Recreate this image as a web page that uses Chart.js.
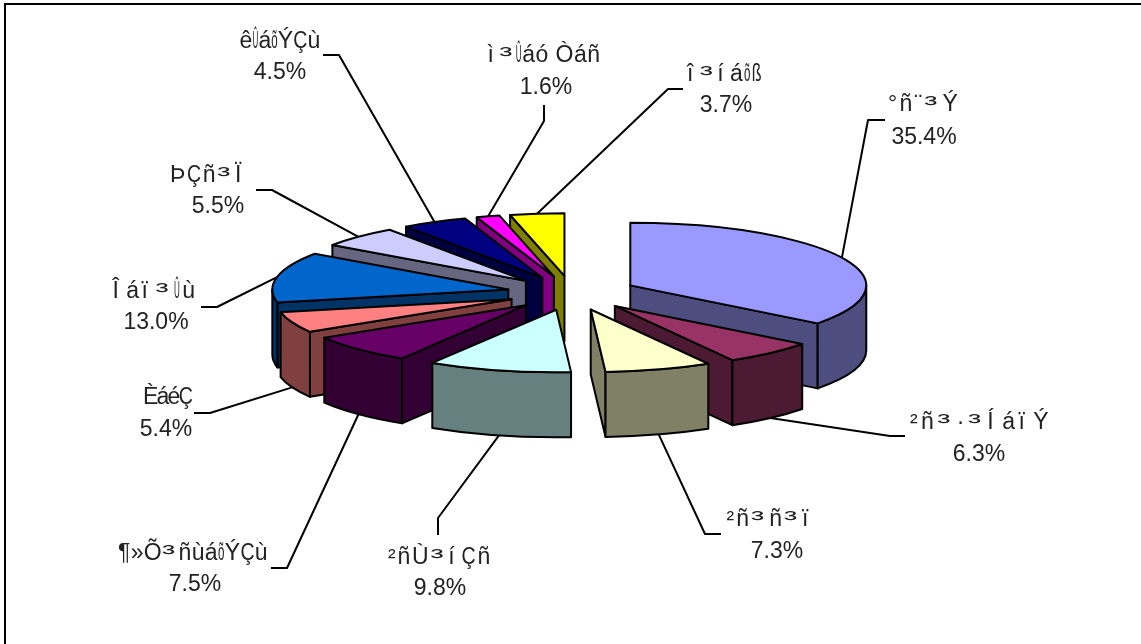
<!DOCTYPE html>
<html>
<head>
<meta charset="utf-8">
<title>Pie</title>
<script src="https://cdn.jsdelivr.net/npm/chart.js@4"></script>
<style>
    html, body { margin: 0; padding: 0; background: #fff; overflow: hidden; }
    #frame { position: absolute; left: 4px; top: 3px; width: 1137px; height: 641px; border-left: 2px solid #000; border-top: 2px solid #000; }
    canvas { position: absolute; left: 0; top: 0; }
</style>
</head>
<body>
<canvas id="pie" width="1141" height="644"></canvas>
<div id="frame"></div>
<script>
// data
var regions = ['°ñ¨³Ý', '²ñ³·³ÍáïÝ', '²ñ³ñ³ï', '²ñÙ³íÇñ', '¶»Õ³ñùáõÝÇù', 'ÈáéÇ', 'Îáï³Ûù', 'ÞÇñ³Ï', 'êÛáõÝÇù', 'ì³Ûáó Òáñ', 'î³íáõß'];
var shares = [35.4, 6.3, 7.3, 9.8, 7.5, 5.4, 13.0, 5.5, 4.5, 1.6, 3.7];

// colours
var topColors = ['#9999FF', '#993366', '#FFFFCC', '#CCFFFF', '#660066', '#FF8080', '#0066CC', '#CCCCFF', '#000080', '#FF00FF', '#FFFF00'];
var sideColors = ['#4D4D80', '#4D1A33', '#808066', '#668080', '#330033', '#804040', '#003366', '#666680', '#000040', '#800080', '#808000'];

// label layout: name x, name y, value x, value y, name width, leader elbow x, y, leader end x, y
var nameX = [924, 981, 771, 440, 193, 167, 155, 209, 280, 544, 725];
var nameY = [105, 423, 520, 558, 554, 398, 292, 176, 42, 56, 75];
var valueX = [924, 979, 777, 440, 195, 166, 156, 218, 280, 546, 726];
var valueY = [138, 455, 552, 589, 585, 430, 323, 207, 73, 88, 106];
var nameW = [72, 142, 89, 104, 150, 48, 85, 78, 81, 113, 76];
var elbowX = [868, 890, 705, 438, 287, 210, 217, 272, 339, 544, 668];
var elbowY = [120, 436, 534, 518, 568, 413, 307, 190, 55, 121, 89];
var endX = [885, 905, 721, 438, 271, 194, 201, 256, 323, 544, 683];
var endY = [120, 436, 534, 535, 568, 413, 307, 190, 55, 105, 89];

var tilt = 0.265;     // squash of the pie
var depth = 65;       // height of the slices
var explode = 65;     // distance of each slice from the centre

// the reference text is set in a substituted font: some glyphs narrow, some wide
var glyphScale = { 'Û': 0.35, 'õ': 0.5, 'ß': 0.7, 'Ç': 0.85, '³': 1.7 };
var glyphPad = { '³': 3, 'î': 5, 'í': 5, 'Î': 5, 'Ï': 5, 'ì': 5, 'ï': 5, 'Í': 5 };

var pie3d = {
    id: 'pie3d',
    beforeDatasetDraw: function(chart, args) {
        var ctx = chart.ctx;
        var arcs = chart.getDatasetMeta(args.index).data;
        var order = arcs.map(function(a, i) { return i; });
        order.sort(function(a, b) { return midSin(arcs[a]) - midSin(arcs[b]); });

        ctx.save();
        ctx.lineWidth = 2;
        ctx.lineJoin = 'round';
        ctx.strokeStyle = '#000';
        order.forEach(function(i) { drawSlice(ctx, arcs[i], i); });
        arcs.forEach(function(arc, i) { drawLeader(ctx, arc, i); });
        regions.forEach(function(name, i) { drawLabel(ctx, i); });
        ctx.restore();
        return false;
    }
};

function midSin(arc) {
    return Math.sin((arc.startAngle + arc.endAngle) / 2);
}

function apexOf(arc) {
    var mid = (arc.startAngle + arc.endAngle) / 2;
    return { x: arc.x + Math.cos(mid) * explode, y: arc.y + Math.sin(mid) * explode * tilt };
}

function paint(ctx, color) {
    ctx.fillStyle = color;
    ctx.fill();
    ctx.stroke();
}

function radialWall(ctx, p, angle, r, color) {
    var ex = p.x + Math.cos(angle) * r;
    var ey = p.y + Math.sin(angle) * r * tilt;
    ctx.beginPath();
    ctx.moveTo(p.x, p.y);
    ctx.lineTo(ex, ey);
    ctx.lineTo(ex, ey + depth);
    ctx.lineTo(p.x, p.y + depth);
    ctx.closePath();
    paint(ctx, color);
}

function drawSlice(ctx, arc, i) {
    var p = apexOf(arc);
    var r = arc.outerRadius;
    var a0 = arc.startAngle, a1 = arc.endAngle;

    // only the walls turned to the viewer
    if (Math.cos(a0) < 0) radialWall(ctx, p, a0, r, sideColors[i]);
    if (Math.cos(a1) > 0) radialWall(ctx, p, a1, r, sideColors[i]);

    var s = Math.max(a0, 0), e = Math.min(a1, Math.PI);
    if (s < e) {
        ctx.beginPath();
        ctx.ellipse(p.x, p.y, r, r * tilt, 0, s, e);
        ctx.ellipse(p.x, p.y + depth, r, r * tilt, 0, e, s, true);
        ctx.closePath();
        paint(ctx, sideColors[i]);
    }

    ctx.beginPath();
    ctx.moveTo(p.x, p.y);
    ctx.ellipse(p.x, p.y, r, r * tilt, 0, a0, a1);
    ctx.closePath();
    paint(ctx, topColors[i]);
}

function drawLeader(ctx, arc, i) {
    var p = apexOf(arc);
    var mid = (arc.startAngle + arc.endAngle) / 2;
    var x = p.x + Math.cos(mid) * arc.outerRadius;
    var y = p.y + Math.sin(mid) * arc.outerRadius * tilt;
    if (Math.sin(mid) > 0) y += depth;
    ctx.beginPath();
    ctx.moveTo(x, y);
    ctx.lineTo(elbowX[i], elbowY[i]);
    ctx.lineTo(endX[i], endY[i]);
    ctx.stroke();
}

function drawName(ctx, text, cx, y, width) {
    var chars = Array.from(text);
    var adv = chars.map(function(ch) {
        return ctx.measureText(ch).width * (glyphScale[ch] || 1) + (glyphPad[ch] || 0);
    });
    var total = adv.reduce(function(a, b) { return a + b; }, 0);
    var gap = (width - total) / chars.length;
    var x = cx - width / 2;
    chars.forEach(function(ch, k) {
        ctx.save();
        ctx.translate(x, y);
        ctx.scale(glyphScale[ch] || 1, 1);
        ctx.fillText(ch, 0, 0);
        ctx.restore();
        x += adv[k] + gap;
    });
}

function drawLabel(ctx, i) {
    ctx.font = '23px "Liberation Sans", Arial, sans-serif';
    ctx.fillStyle = '#222';
    ctx.textBaseline = 'middle';
    ctx.textAlign = 'left';
    drawName(ctx, regions[i], nameX[i], nameY[i], nameW[i]);
    ctx.textAlign = 'center';
    ctx.fillText(shares[i].toFixed(1) + '%', valueX[i], valueY[i]);
}

new Chart(document.getElementById('pie'), {
    type: 'pie',
    data: {
        labels: regions,
        datasets: [{ data: shares, backgroundColor: topColors, radius: 236 }]
    },
    options: {
        responsive: false,
        animation: false,
        devicePixelRatio: 1,
        layout: { padding: { left: 3, top: 0, right: 0, bottom: 58 } },
        events: [],
        plugins: { legend: { display: false }, tooltip: { enabled: false } }
    },
    plugins: [pie3d]
});
</script>
</body>
</html>
